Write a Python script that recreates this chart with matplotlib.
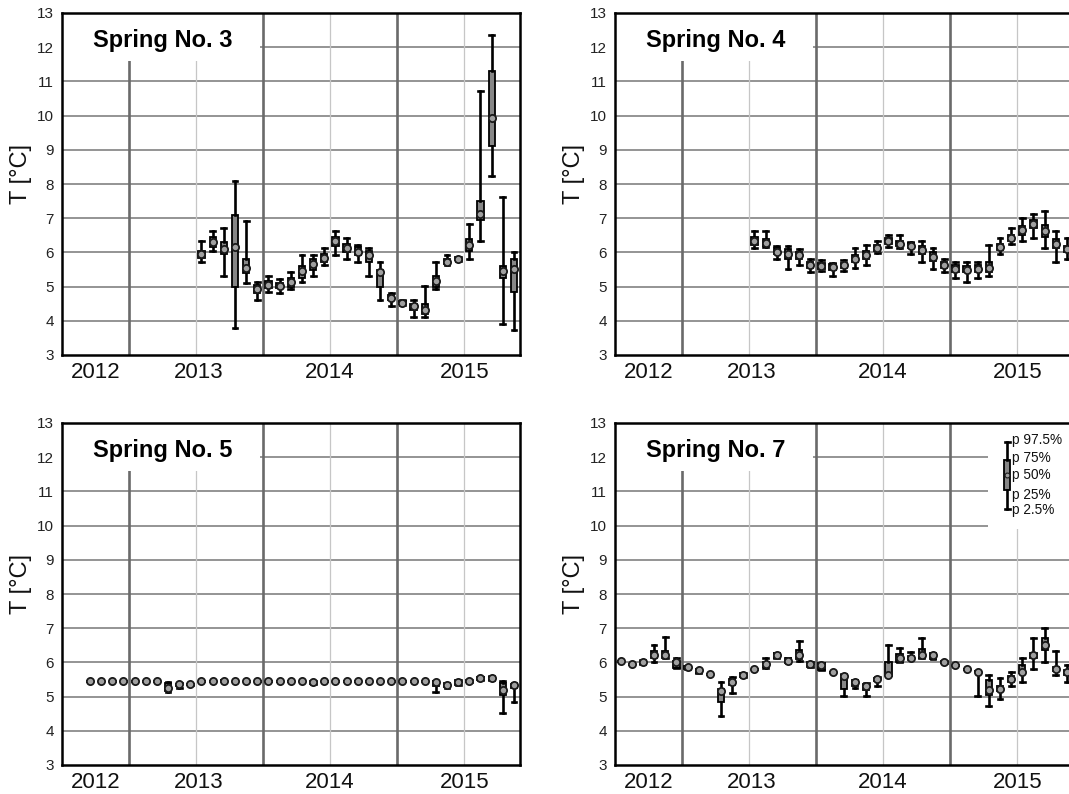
import matplotlib
matplotlib.use('Agg')
import matplotlib.pyplot as plt
from matplotlib.patches import Rectangle
from matplotlib import font_manager as fm
import numpy as np

plt.rcParams['font.family'] = ['Liberation Sans', 'DejaVu Sans']

# ---------------- data ----------------
titles = ['Spring No. 3', 'Spring No. 4', 'Spring No. 5', 'Spring No. 7']
year_labels = ['2012', '2013', '2014', '2015']
legend_labels = ['p 97.5%', 'p 75%', 'p 50%', 'p 25%', 'p 2.5%']

# Spring No. 3 : monthly from Jan 2013
s3_start = (2013, 1)
s3_med = [5.95, 6.30, 6.10, 6.15, 5.55, 4.92, 5.05, 5.03, 5.12, 5.45, 5.65, 5.85,
          6.32, 6.12, 6.02, 5.92, 5.42, 4.68, 4.52, 4.42, 4.32, 5.15, 5.72, 5.82,
          6.22, 7.12, 9.92, 5.45, 5.52]
s3_q1 = [5.85, 6.15, 5.95, 5.00, 5.40, 4.82, 4.95, 4.95, 5.00, 5.25, 5.50, 5.72,
         6.20, 6.00, 5.92, 5.72, 5.00, 4.60, 4.48, 4.32, 4.20, 5.00, 5.65, 5.78,
         6.05, 6.95, 9.12, 5.25, 4.85]
s3_q3 = [6.05, 6.45, 6.30, 7.10, 5.80, 5.05, 5.15, 5.10, 5.25, 5.60, 5.80, 5.95,
         6.45, 6.25, 6.15, 6.05, 5.50, 4.75, 4.58, 4.50, 4.50, 5.30, 5.80, 5.86,
         6.40, 7.50, 11.30, 5.60, 5.80]
s3_lo = [5.72, 6.05, 5.32, 3.80, 5.10, 4.62, 4.85, 4.82, 4.92, 5.12, 5.32, 5.62,
         5.92, 5.82, 5.72, 5.32, 4.62, 4.42, 4.45, 4.12, 4.12, 4.92, 5.62, 5.75,
         5.82, 6.32, 8.22, 3.92, 3.72]
s3_hi = [6.32, 6.62, 6.72, 8.10, 6.92, 5.12, 5.32, 5.22, 5.42, 5.92, 5.92, 6.12,
         6.62, 6.42, 6.22, 6.12, 5.72, 4.82, 4.60, 4.62, 5.02, 5.72, 5.92, 5.88,
         6.82, 10.72, 12.35, 7.62, 6.02]

# Spring No. 4 : monthly from Jan 2013
s4_start = (2013, 1)
s4_med = [6.34, 6.28, 6.02, 5.95, 5.92, 5.62, 5.60, 5.58, 5.62, 5.82, 5.92, 6.12,
          6.32, 6.25, 6.20, 6.08, 5.88, 5.62, 5.52, 5.50, 5.52, 5.55, 6.15, 6.42,
          6.65, 6.82, 6.62, 6.25, 6.10]
s4_q1 = [6.22, 6.18, 5.94, 5.82, 5.82, 5.54, 5.52, 5.50, 5.54, 5.72, 5.82, 6.04,
         6.24, 6.18, 6.12, 5.96, 5.74, 5.54, 5.42, 5.42, 5.44, 5.44, 6.06, 6.34,
         6.52, 6.70, 6.45, 6.12, 6.02]
s4_q3 = [6.45, 6.40, 6.12, 6.10, 6.02, 5.72, 5.70, 5.66, 5.70, 5.92, 6.04, 6.22,
         6.42, 6.34, 6.28, 6.20, 6.00, 5.72, 5.62, 5.60, 5.62, 5.72, 6.25, 6.52,
         6.78, 6.95, 6.80, 6.38, 6.20]
s4_lo = [6.12, 6.15, 5.82, 5.52, 5.62, 5.42, 5.45, 5.32, 5.45, 5.55, 5.62, 5.98,
         6.15, 6.12, 5.95, 5.72, 5.52, 5.42, 5.25, 5.12, 5.25, 5.32, 5.95, 6.25,
         6.32, 6.42, 6.12, 5.72, 5.82]
s4_hi = [6.62, 6.62, 6.20, 6.20, 6.10, 5.82, 5.78, 5.70, 5.78, 6.12, 6.22, 6.32,
         6.50, 6.50, 6.30, 6.32, 6.12, 5.80, 5.72, 5.72, 5.72, 6.22, 6.42, 6.72,
         7.02, 7.12, 7.22, 6.62, 6.42]

# Spring No. 5 : monthly from Mar 2012
s5_start = (2012, 3)
s5_med = [5.45, 5.45, 5.45, 5.45, 5.45, 5.45, 5.45, 5.25, 5.36, 5.36, 5.45, 5.45,
          5.47, 5.45, 5.45, 5.45, 5.45, 5.45, 5.45, 5.45, 5.43, 5.45, 5.45, 5.45,
          5.45, 5.45, 5.45, 5.45, 5.45, 5.45, 5.45, 5.42, 5.35, 5.42, 5.46, 5.54,
          5.54, 5.20, 5.33]
s5_q1 = [5.45, 5.45, 5.45, 5.45, 5.45, 5.45, 5.45, 5.15, 5.30, 5.34, 5.45, 5.45,
         5.45, 5.45, 5.45, 5.45, 5.45, 5.45, 5.45, 5.45, 5.38, 5.45, 5.45, 5.45,
         5.45, 5.45, 5.45, 5.45, 5.45, 5.45, 5.45, 5.32, 5.28, 5.35, 5.44, 5.50,
         5.50, 5.05, 5.25]
s5_q3 = [5.45, 5.45, 5.45, 5.45, 5.45, 5.45, 5.45, 5.40, 5.38, 5.38, 5.45, 5.45,
         5.49, 5.45, 5.45, 5.45, 5.45, 5.45, 5.45, 5.45, 5.45, 5.45, 5.45, 5.45,
         5.45, 5.45, 5.45, 5.45, 5.45, 5.45, 5.45, 5.45, 5.40, 5.48, 5.48, 5.56,
         5.58, 5.40, 5.38]
s5_lo = [5.45, 5.45, 5.45, 5.45, 5.45, 5.45, 5.45, 5.12, 5.25, 5.34, 5.45, 5.45,
         5.45, 5.45, 5.45, 5.45, 5.45, 5.45, 5.45, 5.45, 5.36, 5.45, 5.45, 5.45,
         5.45, 5.45, 5.45, 5.45, 5.45, 5.45, 5.45, 5.12, 5.25, 5.35, 5.44, 5.50,
         5.50, 4.52, 4.83]
s5_hi = [5.45, 5.45, 5.45, 5.45, 5.45, 5.45, 5.45, 5.42, 5.40, 5.38, 5.45, 5.45,
         5.49, 5.45, 5.45, 5.45, 5.45, 5.45, 5.45, 5.45, 5.45, 5.45, 5.45, 5.45,
         5.45, 5.45, 5.45, 5.45, 5.45, 5.45, 5.45, 5.47, 5.40, 5.50, 5.48, 5.58,
         5.60, 5.45, 5.40]

# Spring No. 7 : monthly from Jan 2012
s7_start = (2012, 1)
s7_med = [6.03, 5.95, 6.02, 6.22, 6.22, 6.00, 5.86, 5.77, 5.67, 5.15, 5.44, 5.64,
          5.82, 5.95, 6.22, 6.05, 6.22, 5.95, 5.92, 5.72, 5.60, 5.42, 5.32, 5.52,
          5.62, 6.12, 6.14, 6.22, 6.22, 6.02, 5.92, 5.82, 5.72, 5.20, 5.22, 5.52,
          5.72, 6.22, 6.52, 5.82, 5.72]
s7_q1 = [6.03, 5.95, 5.95, 6.13, 6.12, 5.85, 5.80, 5.70, 5.67, 4.85, 5.33, 5.58,
         5.82, 5.88, 6.12, 5.98, 6.10, 5.88, 5.78, 5.72, 5.22, 5.30, 5.20, 5.45,
         5.65, 6.02, 6.10, 6.12, 6.10, 5.98, 5.92, 5.82, 5.72, 5.05, 5.15, 5.42,
         5.70, 6.12, 6.35, 5.75, 5.62]
s7_q3 = [6.03, 5.95, 6.05, 6.32, 6.32, 6.05, 5.90, 5.82, 5.67, 5.23, 5.52, 5.70,
         5.82, 6.00, 6.28, 6.12, 6.35, 6.02, 5.98, 5.72, 5.62, 5.48, 5.38, 5.55,
         6.00, 6.25, 6.18, 6.40, 6.28, 6.05, 5.92, 5.82, 5.75, 5.50, 5.30, 5.60,
         5.92, 6.28, 6.70, 5.88, 5.78]
s7_lo = [6.03, 5.95, 5.95, 6.00, 6.12, 5.83, 5.80, 5.70, 5.67, 4.42, 5.11, 5.58,
         5.82, 5.85, 6.12, 5.98, 6.05, 5.88, 5.78, 5.72, 5.02, 5.25, 5.02, 5.32,
         5.62, 6.02, 6.10, 6.12, 6.10, 5.98, 5.92, 5.82, 5.02, 4.72, 4.92, 5.32,
         5.42, 5.82, 6.02, 5.62, 5.42]
s7_hi = [6.03, 5.95, 6.08, 6.52, 6.73, 6.13, 5.90, 5.82, 5.67, 5.44, 5.57, 5.70,
         5.82, 6.12, 6.28, 6.12, 6.62, 6.02, 5.98, 5.72, 5.65, 5.48, 5.40, 5.58,
         6.52, 6.42, 6.30, 6.72, 6.28, 6.05, 5.92, 5.82, 5.75, 5.62, 5.55, 5.72,
         6.12, 6.72, 7.02, 6.32, 5.92]

# legend glyph percentiles (p2.5, p25, p50, p75, p97.5)
legend_stats = [10.5, 11.05, 11.48, 11.92, 12.45]

springs = [
    (s3_start, s3_med, s3_q1, s3_q3, s3_lo, s3_hi),
    (s4_start, s4_med, s4_q1, s4_q3, s4_lo, s4_hi),
    (s5_start, s5_med, s5_q1, s5_q3, s5_lo, s5_hi),
    (s7_start, s7_med, s7_q1, s7_q3, s7_lo, s7_hi),
]

# ---------------- styling ----------------
W, H = 1069, 794
fig = plt.figure(figsize=(W / 100, H / 100), dpi=100)
fig.patch.set_facecolor('white')

ax_w = 458 / W
ax_h = 342 / H
lefts = [62 / W, 615 / W]
bottoms = [1 - 355 / H, 1 - 765 / H]

XMIN, XMAX = 2012.0, 2015.42
box_face = '#878787'
med_face = '#a0a0a0'


def narrow_font():
    for fam in ['Liberation Sans Narrow', 'Arial Narrow']:
        try:
            fm.findfont(fm.FontProperties(family=fam), fallback_to_default=False)
            return [fam, 'Liberation Sans'], 11
        except Exception:
            pass
    return ['Liberation Sans'], 9.8


def month_positions(start, n):
    y, m = start
    return y + (m - 1 + np.arange(n) + 0.5) / 12.0


common = dict(showmeans=True, meanline=False, patch_artist=True, manage_ticks=False,
              boxprops=dict(facecolor=box_face, edgecolor='black', linewidth=1.3),
              whiskerprops=dict(color='black', linewidth=1.9),
              capprops=dict(color='black', linewidth=1.9),
              medianprops=dict(linewidth=0), zorder=5)

for i, (title, sp) in enumerate(zip(titles, springs)):
    row, col = divmod(i, 2)
    ax = fig.add_axes([lefts[col], bottoms[row], ax_w, ax_h])
    ax.set_xlim(XMIN, XMAX)
    ax.set_ylim(3, 13)

    # grid
    for yv in range(4, 13):
        ax.axhline(yv, color='#878787', lw=1.25, zorder=1)
    for xv in [2013, 2014, 2015]:
        ax.axvline(xv, color='#c6c6c6', lw=0.9, zorder=1)
    for xv in [2012.5, 2013.5, 2014.5]:
        ax.axvline(xv, color='#6a6a6a', lw=1.9, zorder=1.2)

    # white box behind title
    ax.add_patch(Rectangle((XMIN, 11.6), 2013.475 - XMIN, 13 - 11.6,
                           facecolor='white', edgecolor='none', zorder=3))
    ax.text(2012.23, 12.0, title, fontsize=17, fontweight='bold',
            va='baseline', ha='left', zorder=6)

    start, med, q1, q3, lo, hi = sp
    pos = month_positions(start, len(med))
    stats = [dict(med=m, q1=a, q3=b, whislo=l, whishi=h, mean=m, fliers=[])
             for m, a, b, l, h in zip(med, q1, q3, lo, hi)]
    ax.bxp(stats, positions=pos, widths=0.047, capwidths=0.036,
           meanprops=dict(marker='o', markersize=5.2, markerfacecolor=med_face,
                          markeredgecolor='#1a1a1a', markeredgewidth=1.3),
           **common)

    if i == 3:
        # legend area
        ax.add_patch(Rectangle((2014.787, 9.91), XMAX + 0.2 - 2014.787, 13 - 9.91,
                               facecolor='white', edgecolor='none', zorder=3))
        p025, p25, p50, p75, p975 = legend_stats
        ax.bxp([dict(med=p50, q1=p25, q3=p75, whislo=p025, whishi=p975, mean=p50,
                     fliers=[])], positions=[2014.93], widths=0.045, capwidths=0.036,
               meanprops=dict(marker='o', markersize=3.5, markerfacecolor=med_face,
                              markeredgecolor='#1a1a1a', markeredgewidth=0.8),
               **common)
        nf, nsize = narrow_font()
        label_y = [12.5, 11.98, 11.47, 10.9, 10.45]
        for lab, yv in zip(legend_labels, label_y):
            ax.text(2014.962, yv, lab, fontsize=nsize, family=nf, va='center',
                    ha='left', zorder=6, color='#111111')

    ax.set_yticks(range(3, 14))
    ax.set_xticks([2012.25, 2013.02, 2014.0, 2015.01])
    ax.set_xticklabels(year_labels)
    ax.tick_params(axis='y', length=0, pad=6, labelsize=11, labelcolor='#222222')
    ax.tick_params(axis='x', length=0, pad=5, labelsize=16, labelcolor='#111111')
    ax.set_ylabel('T [°C]', fontsize=17, color='#111111')
    ax.yaxis.set_label_coords(-0.065, 0.53)
    for s in ax.spines.values():
        s.set_linewidth(1.8)
        s.set_color('black')
        s.set_zorder(10)

fig.savefig('out.png', dpi=100, facecolor='white')
